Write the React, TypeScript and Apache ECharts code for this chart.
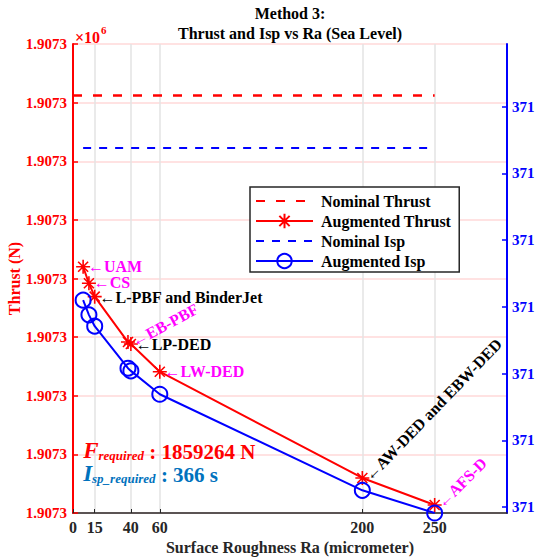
import React, { useEffect, useRef } from 'react';
import * as echarts from 'echarts';

// ---------- data ----------
const roughness = [7, 11, 15, 38, 40, 60, 200, 250];
const processNames = ['UAM', 'CS', 'L-PBF and BinderJet', 'EB-PBF', 'LP-DED', 'LW-DED', 'AW-DED and EBW-DED', 'AFS-D'];
const augmentedThrust = [1907321.0, 1907319.59, 1907318.45, 1907314.58, 1907314.41, 1907312.05, 1907302.99, 1907300.68];
const augmentedIsp = [371.031, 371.0288, 371.0271, 371.0208, 371.0204, 371.0169, 371.0025, 370.9991];
const nominalThrust = 1907335.6;
const nominalIsp = 371.0538;
const nominalThrustRange = [0, 250];
const nominalIspRange = [7, 250];
const xTicks = [0, 15, 40, 60, 200, 250];
const ispTicks = [371.0, 371.01, 371.02, 371.03, 371.04, 371.05, 371.06];
const requiredThrust = 1859264;
const requiredIsp = 366;

// ---------- styles ----------
const FONT = "'Liberation Serif', 'Times New Roman', serif";
const RED = '#ff0000';
const BLUE = '#0000ff';
const MAG = '#ff00ff';
const DARK = '#262626';
const REQ_BLUE = '#0072bd';
const FS = 16;
const labelStyles = [
  { color: MAG, rotate: 0, dy: 0 },
  { color: MAG, rotate: 0, dy: -1 },
  { color: '#000000', rotate: 0, dy: 1 },
  { color: MAG, rotate: 28, dy: 0 },
  { color: '#000000', rotate: 0, dy: 0 },
  { color: MAG, rotate: 0, dy: 0 },
  { color: '#000000', rotate: 46, dy: 0 },
  { color: MAG, rotate: 45, dy: 0 },
];
const ASTERISK = 'path://M7 0L7 14M0 7L14 7M2 2L12 12M2 12L12 2';

function richReq(color: string) {
  return {
    big: { fontFamily: FONT, fontStyle: 'italic', fontWeight: 'bold', fontSize: 23, color, verticalAlign: 'bottom', lineHeight: 24, textBorderWidth: 0, opacity: 1 },
    sub: { fontFamily: FONT, fontStyle: 'italic', fontWeight: 'bold', fontSize: 13, color, verticalAlign: 'bottom', lineHeight: 12, textBorderWidth: 0, opacity: 1 },
    val: { fontFamily: FONT, fontWeight: 'bold', fontSize: 21, color, verticalAlign: 'bottom', lineHeight: 24, textBorderWidth: 0, opacity: 1 },
  };
}

function buildOption() {
  const thrustData = roughness.map((x, i) => ({
    value: [x, augmentedThrust[i]],
    label: {
      show: true,
      position: 'right',
      distance: -3,
      offset: [0, labelStyles[i].dy],
      formatter: '\u2190' + processNames[i],
      color: labelStyles[i].color,
      rotate: labelStyles[i].rotate,
      fontFamily: FONT,
      fontWeight: 'bold',
      fontSize: FS,
      lineHeight: 14,
      textBorderWidth: 0,
    },
  }));
  const ispData = roughness.map((x, i) => [x, augmentedIsp[i]]);

  return {
    animation: false,
    backgroundColor: '#ffffff',
    grid: { left: 73, right: 30, top: 44, bottom: 45, containLabel: false, outerBoundsMode: 'none' },
    legend: {
      orient: 'vertical',
      left: 250,
      top: 187,
      padding: [5, 8, 2, 5],
      itemGap: 2,
      itemWidth: 57,
      itemHeight: 18,
      selectedMode: false,
      borderColor: DARK,
      borderWidth: 1.5,
      backgroundColor: '#ffffff',
      data: [
        { name: 'Nominal Thrust', itemStyle: { opacity: 0 } },
        { name: 'Augmented Thrust' },
        { name: 'Nominal Isp', itemStyle: { opacity: 0 } },
        { name: 'Augmented Isp' },
      ],
      textStyle: { fontFamily: FONT, fontWeight: 'bold', fontSize: FS, lineHeight: 18, color: '#000', padding: [0, 0, 0, 3] },
    },
    xAxis: {
      type: 'value',
      min: 0,
      max: 300,
      name: 'Surface Roughness Ra (micrometer)',
      nameLocation: 'middle',
      nameGap: 26,
      nameMoveOverlap: false,
      nameTextStyle: { fontFamily: FONT, fontWeight: 'bold', fontSize: FS, color: DARK },
      axisLine: { show: true, onZero: false, lineStyle: { color: DARK, width: 1.5 } },
      axisTick: { show: true, inside: true, length: 4, customValues: xTicks, lineStyle: { color: DARK } },
      axisLabel: {
        customValues: xTicks,
        margin: 6,
        fontFamily: FONT,
        fontWeight: 'bold',
        fontSize: FS,
        color: DARK,
      },
      splitLine: { show: true, lineStyle: { color: '#e3e3e3', width: 1.5 } },
    },
    yAxis: [
      {
        type: 'value',
        min: 1907300,
        max: 1907340,
        interval: 5,
        position: 'left',
        name: 'Thrust (N)',
        nameLocation: 'middle',
        nameGap: 51,
        nameMoveOverlap: false,
        nameTextStyle: { fontFamily: FONT, fontWeight: 'bold', fontSize: FS, color: RED },
        axisLine: { show: true, lineStyle: { color: RED, width: 2 } },
        axisTick: { show: true, inside: true, length: 5, lineStyle: { color: RED, width: 1.5 } },
        axisLabel: {
          margin: 6,
          fontFamily: FONT,
          fontWeight: 'bold',
          fontSize: 15,
          color: RED,
          formatter: (v: number) => (v / 1e6).toFixed(4),
        },
        splitLine: { show: true, lineStyle: { color: '#ffd9d9', width: 1.5 } },
      },
      {
        type: 'value',
        min: 370.9991,
        max: 371.0694,
        position: 'right',
        axisLine: { show: true, lineStyle: { color: BLUE, width: 2 } },
        axisTick: { show: true, inside: true, length: 5, customValues: ispTicks, lineStyle: { color: BLUE, width: 1.5 } },
        axisLabel: {
          customValues: ispTicks,
          margin: 5,
          fontFamily: FONT,
          fontWeight: 'bold',
          fontSize: 15,
          color: BLUE,
          formatter: (v: number) => String(Math.floor(v)),
        },
        splitLine: { show: false },
      },
    ],
    series: [
      {
        name: 'Nominal Thrust',
        type: 'line',
        yAxisIndex: 0,
        symbol: 'none',
        data: nominalThrustRange.map((x) => [x, nominalThrust]),
        lineStyle: { color: RED, width: 2.5, type: [9, 11] },
        itemStyle: { color: RED },
        silent: true,
      },
      {
        name: 'Augmented Thrust',
        type: 'line',
        yAxisIndex: 0,
        symbol: ASTERISK,
        symbolSize: 14,
        data: thrustData,
        lineStyle: { color: RED, width: 2 },
        itemStyle: { color: RED, borderColor: RED, borderWidth: 1.6 },
        label: { show: false },
        z: 3,
        silent: true,
      },
      {
        name: 'Nominal Isp',
        type: 'line',
        yAxisIndex: 1,
        symbol: 'none',
        data: nominalIspRange.map((x) => [x, nominalIsp]),
        lineStyle: { color: BLUE, width: 2, type: [8, 8] },
        itemStyle: { color: BLUE },
        silent: true,
      },
      {
        name: 'Augmented Isp',
        type: 'line',
        yAxisIndex: 1,
        symbol: 'circle',
        symbolSize: 15,
        data: ispData,
        lineStyle: { color: BLUE, width: 2 },
        itemStyle: { color: 'rgba(0,0,0,0)', borderColor: BLUE, borderWidth: 2 },
        z: 4,
        silent: true,
      },
      {
        name: 'annotations',
        type: 'scatter',
        yAxisIndex: 0,
        symbolSize: 0,
        silent: true,
        itemStyle: { opacity: 1 },
        z: 5,
        data: [
          {
            value: [7, 1907305.35],
            label: {
              show: true,
              position: 'right',
              distance: 0,
              formatter: '{big|F}{sub|required}{val| : ' + requiredThrust + ' N}',
              color: RED,
              opacity: 1,
              textBorderWidth: 0,
              rich: richReq(RED),
            },
          },
          {
            value: [7, 1907303.37],
            label: {
              show: true,
              position: 'right',
              distance: 0,
              formatter: '{big|I}{sub|sp_required}{val| : ' + requiredIsp + ' s}',
              color: REQ_BLUE,
              opacity: 1,
              textBorderWidth: 0,
              rich: richReq(REQ_BLUE),
            },
          },
        ],
      },
    ],
    graphic: [
      {
        type: 'text',
        x: 290,
        y: 13,
        style: { text: 'Method 3:', align: 'center', verticalAlign: 'middle', fontFamily: FONT, fontWeight: 'bold', fontSize: FS, fill: '#000' },
      },
      {
        type: 'text',
        x: 290,
        y: 33,
        style: { text: 'Thrust and Isp vs Ra (Sea Level)', align: 'center', verticalAlign: 'middle', fontFamily: FONT, fontWeight: 'bold', fontSize: FS, fill: '#000' },
      },
      {
        type: 'text',
        x: 75,
        y: 37,
        style: { text: '\u00d710', align: 'left', verticalAlign: 'middle', fontFamily: FONT, fontWeight: 'bold', fontSize: 16, fill: RED },
      },
      {
        type: 'text',
        x: 101,
        y: 30,
        style: { text: '6', align: 'left', verticalAlign: 'middle', fontFamily: FONT, fontWeight: 'bold', fontSize: 11, fill: RED },
      },
    ],
  };
}

export default function App() {
  const ref = useRef<HTMLDivElement>(null);
  useEffect(() => {
    if (!ref.current) return;
    const chart = echarts.init(ref.current, null, { renderer: 'svg' });
    chart.setOption(buildOption() as any);
    return () => chart.dispose();
  }, []);
  return (
    <div style={{ position: 'fixed', left: 0, top: 0, width: 537, height: 558, background: '#fff', overflow: 'hidden' }}>
      <div ref={ref} style={{ width: 537, height: 558 }} />
    </div>
  );
}
